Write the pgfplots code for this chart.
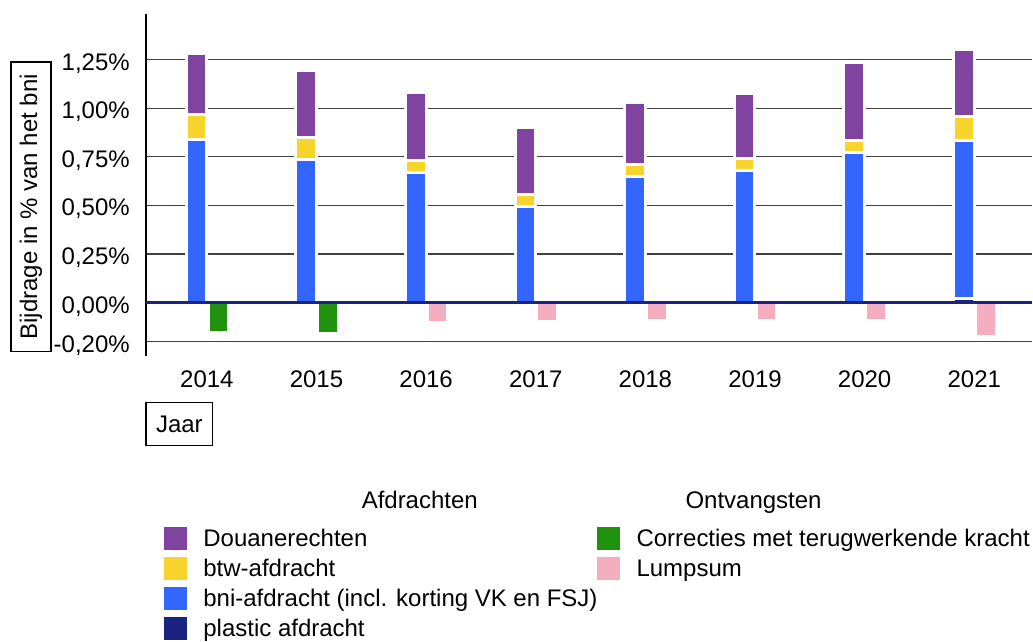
\documentclass[border=0pt]{standalone}
\usepackage{fontspec}
\setmainfont{Liberation Sans}
\usepackage{pgfplots}
\pgfplotsset{compat=1.18}
\definecolor{cPurple}{RGB}{128,67,160}
\definecolor{cYellow}{RGB}{247,212,44}
\definecolor{cBlue}{RGB}{51,102,255}
\definecolor{cNavy}{RGB}{26,35,128}
\definecolor{cGreen}{RGB}{32,146,14}
\definecolor{cPink}{RGB}{244,174,192}
\pgfplotsset{
  common/.style={
    at={(146pt,-356pt)}, anchor=south west,
    scale only axis, width=887pt, height=342pt,
    xmin=-0.556, xmax=7.53, ymin=-0.274, ymax=1.485,
  },
  segment/.style={draw=white, line width=3pt},
}
\begin{document}
\begin{tikzpicture}[x=1pt,y=1pt,font=\fontsize{24}{29}\selectfont]
\path (0,0) rectangle (1033,-641);
% ---- axis 1: grid, ticks, Ontvangsten (negative bars)
\begin{axis}[common,
  axis x line*=bottom, axis y line*=left,
  x axis line style={draw=none},
  y axis line style={black, line width=1.3pt},
  xtick={0,1,2,3,4,5,6,7},
  xticklabels={2014,2015,2016,2017,2018,2019,2020,2021},
  major tick length=0pt,
  xticklabel style={anchor=base, yshift=-31.7pt, inner sep=0pt},
  ytick={-0.2,0,0.25,0.5,0.75,1,1.25},
  yticklabels={{-0,20\%},{0,00\%},{0,25\%},{0,50\%},{0,75\%},{1,00\%},{1,25\%}},
  yticklabel style={anchor=base east, xshift=-16pt, yshift=-10.6pt, inner sep=0pt},
  ymajorgrids, grid style={black!75, line width=1.2pt},
  ybar, bar width=0.188,
]
% Correcties met terugwerkende kracht
\addplot[fill=cGreen, segment, bar shift=0.105] coordinates {(0,-0.153) (1,-0.157)};
% Lumpsum
\addplot[fill=cPink, segment, bar shift=0.105] coordinates {(2,-0.105) (3,-0.097) (4,-0.092) (5,-0.090) (6,-0.093) (7,-0.177)};
\end{axis}
% ---- axis 2: Afdrachten (stacked positive bars)
\begin{axis}[common, hide axis, ybar stacked, bar width=0.188, bar shift=-0.095]
% plastic afdracht
\addplot[fill=cNavy, segment] coordinates {(0,0) (1,0) (2,0) (3,0) (4,0) (5,0) (6,0) (7,0.023)};
% bni-afdracht
\addplot[fill=cBlue, segment] coordinates {(0,0.841) (1,0.734) (2,0.668) (3,0.492) (4,0.647) (5,0.680) (6,0.773) (7,0.809)};
% btw-afdracht
\addplot[fill=cYellow, segment] coordinates {(0,0.125) (1,0.116) (2,0.061) (3,0.063) (4,0.063) (5,0.061) (6,0.059) (7,0.123)};
% Douanerechten
\addplot[fill=cPurple, segment] coordinates {(0,0.316) (1,0.345) (2,0.353) (3,0.345) (4,0.320) (5,0.335) (6,0.404) (7,0.348)};
\end{axis}
% ---- axis 3: zero line on top
\begin{axis}[common, hide axis]
\draw[cNavy, line width=3pt] (axis cs:-0.556,0) -- (axis cs:7.53,0);
\end{axis}
% ---- labels
\node[draw=black, line width=1.2pt, rotate=90, minimum width=290pt, minimum height=40pt, inner sep=0pt] at (31,-207) {Bijdrage in \% van het bni};
\node[draw=black, line width=1.2pt, minimum width=67pt, minimum height=43pt, inner sep=0pt] at (179.5,-424.5) {Jaar};
% ---- legend
\node[anchor=base, inner sep=0pt] at (420,-508.3) {Afdrachten};
\node[anchor=base, inner sep=0pt] at (754,-508.3) {Ontvangsten};
\fill[cPurple] (164,-527.7) rectangle ++(23,-23);
\fill[cYellow] (164,-557.7) rectangle ++(23,-23);
\fill[cBlue]   (164,-587.7) rectangle ++(23,-23);
\fill[cNavy]   (164,-617.7) rectangle ++(23,-23);
\node[anchor=base west, inner sep=0pt] at (203.3,-546.7) {Douanerechten};
\node[anchor=base west, inner sep=0pt] at (203.3,-576.7) {btw-afdracht};
\node[anchor=base west, inner sep=0pt] at (203.3,-606.7) {bni-afdracht (incl. korting VK en FSJ)};
\node[anchor=base west, inner sep=0pt] at (203.3,-636.7) {plastic afdracht};
\fill[cGreen] (597.3,-527.7) rectangle ++(23,-23);
\fill[cPink]  (597.3,-557.7) rectangle ++(23,-23);
\node[anchor=base west, inner sep=0pt] at (636.7,-546.7) {Correcties met terugwerkende kracht};
\node[anchor=base west, inner sep=0pt] at (636.7,-576.7) {Lumpsum};
\end{tikzpicture}
\end{document}
